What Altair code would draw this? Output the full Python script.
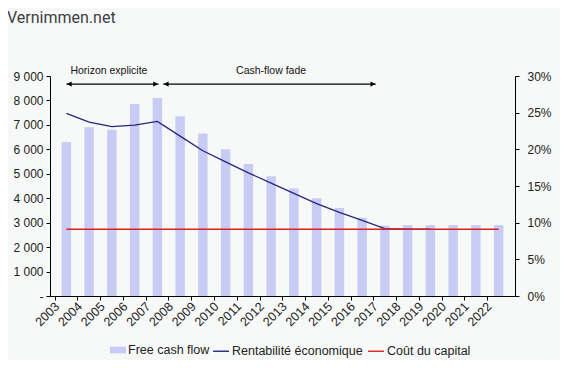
import altair as alt
import pandas as pd

years = list(range(2003, 2023))
free_cash_flow = [6300, 6900, 6800, 7850, 8100, 7350, 6650, 6000, 5400, 4900,
                  4400, 4000, 3600, 3200, 2880, 2900, 2900, 2900, 2900, 2900]
rentab_years = list(range(2003, 2020))
rentabilite = [24.9, 23.7, 23.1, 23.3, 23.8, 21.8, 19.8, 18.3, 16.8, 15.4,
               14.0, 12.6, 11.4, 10.3, 9.2, 9.1, 9.1]
cout_capital = [9.1] * 20

bar_name = ["Free cash flow"]
bar_color = ["#c8ccf5"]
line_names = ["Rentabilité économique", "Coût du capital"]
line_colors = ["#26267e", "#e02020"]

ann_labels = ["Horizon explicite", "Cash-flow fade"]
ann_text_x = [2004.87, 2012.0]
ann_text_y = [9080, 9080]
arrow_start = [2003.0, 2007.26]
arrow_end = [2007.05, 2016.6]
arrow_y = [8670, 8670]

FONT = "Liberation Sans"

bars_df = pd.DataFrame({"year": years, "v": free_cash_flow, "series": bar_name[0]})
lines_df = pd.concat([
    pd.DataFrame({"year": rentab_years, "p": rentabilite, "series": line_names[0]}),
    pd.DataFrame({"year": years, "p": cout_capital, "series": line_names[1]}),
])
arrows_df = pd.DataFrame({"year": arrow_start, "x2": arrow_end, "v": arrow_y})
heads_df = pd.DataFrame({
    "year": [a + 0.13 for a in arrow_start] + [b - 0.13 for b in arrow_end],
    "v": arrow_y + arrow_y,
    "shape": ["triangle-left"] * 2 + ["triangle-right"] * 2,
})
text_df = pd.DataFrame({"label": ann_labels, "year": ann_text_x, "v": ann_text_y})

xscale = alt.Scale(domain=[2002.5, 2022.5], nice=False, zero=False)
yleft = alt.Scale(domain=[0, 9000], nice=False)
yright = alt.Scale(domain=[0, 30], nice=False)

bar_legend = alt.Legend(
    title=None, orient="none", legendX=60, legendY=266, direction="horizontal",
    columnPadding=0, labelOffset=2, labelFont=FONT, labelFontSize=12.5,
    labelColor="#222", symbolSize=256, padding=0,
    symbolType="M-1,-0.42H1V0.42H-1Z", symbolStrokeWidth=0,
)
line_legend = alt.Legend(
    title=None, orient="none", legendX=162, legendY=266, direction="horizontal",
    columnPadding=2, labelOffset=2, labelFont=FONT, labelFontSize=12.5,
    labelColor="#222", symbolSize=256, padding=0,
    symbolType="M-1,0H1", symbolStrokeWidth=1.4,
)

x_axis = alt.Axis(
    values=years, format="d", labelAngle=-45, labelAlign="right", labelBaseline="middle",
    tickOffset=-11.625, labelOffset=2, tickSize=4, tickColor="black", domainColor="black",
    labelFont=FONT, labelFontSize=12.5, labelColor="#222", labelPadding=4, title=None,
    grid=False, labelFlush=False, labelOverlap=False, labelBound=False,
)
y_left_axis = alt.Axis(
    values=list(range(0, 9001, 1000)), title=None, grid=False,
    labelExpr="datum.value == 0 ? '-' : replace(format(datum.value, ','), ',', ' ')",
    tickSize=4, tickColor="black", domainColor="black", labelPadding=3,
    labelOverlap=False, labelFlush=False,
    labelFont=FONT, labelFontSize=12, labelColor="#222")
y_right_axis = alt.Axis(
    orient="right", values=list(range(0, 31, 5)), labelExpr="datum.value + '%'",
    title=None, grid=False, tickSize=4, tickColor="black", domainColor="black",
    labelPadding=8, labelOverlap=False, labelFlush=False,
    labelFont=FONT, labelFontSize=12, labelColor="#222")

X = alt.X("year:Q", scale=xscale, axis=x_axis)
YL = alt.Y("v:Q", scale=yleft, axis=y_left_axis)

bars = alt.Chart(bars_df).mark_bar(size=9.5).encode(
    x=X, y=YL,
    fill=alt.Fill("series:N", scale=alt.Scale(domain=bar_name, range=bar_color), legend=bar_legend),
)
arrows = alt.Chart(arrows_df).mark_rule(color="black", strokeWidth=1.2).encode(
    x=X, x2="x2:Q", y=YL)
heads = alt.Chart(heads_df).mark_point(filled=True, color="black", size=28, opacity=1).encode(
    x=X, y=YL, shape=alt.Shape("shape:N", scale=None, legend=None))
texts = alt.Chart(text_df).mark_text(font=FONT, fontSize=10.5, color="#111", baseline="alphabetic").encode(
    x=X, y=YL, text="label:N")

left = alt.layer(bars, arrows, heads, texts)

lines = alt.Chart(lines_df).mark_line(strokeWidth=1.3).encode(
    x=X,
    y=alt.Y("p:Q", scale=yright, axis=y_right_axis),
    stroke=alt.Stroke("series:N", scale=alt.Scale(domain=line_names, range=line_colors),
                      legend=line_legend),
)

chart = alt.layer(left, lines).resolve_scale(y="independent").properties(
    width=465, height=220,
    autosize=alt.AutoSizeParams(type="none"),
    padding={"left": 42, "top": 68, "right": 45, "bottom": 64},
    background="#f7f9f8",
    title=alt.TitleParams("Vernimmen.net", anchor="start", frame="group", dx=-43,
                          offset=27, font="Roboto", fontSize=16, fontWeight="normal",
                          color="#3c4043", baseline="alphabetic"),
).configure_view(stroke=None)

chart.save("out.html", embed_options={"renderer": "svg", "actions": False})
